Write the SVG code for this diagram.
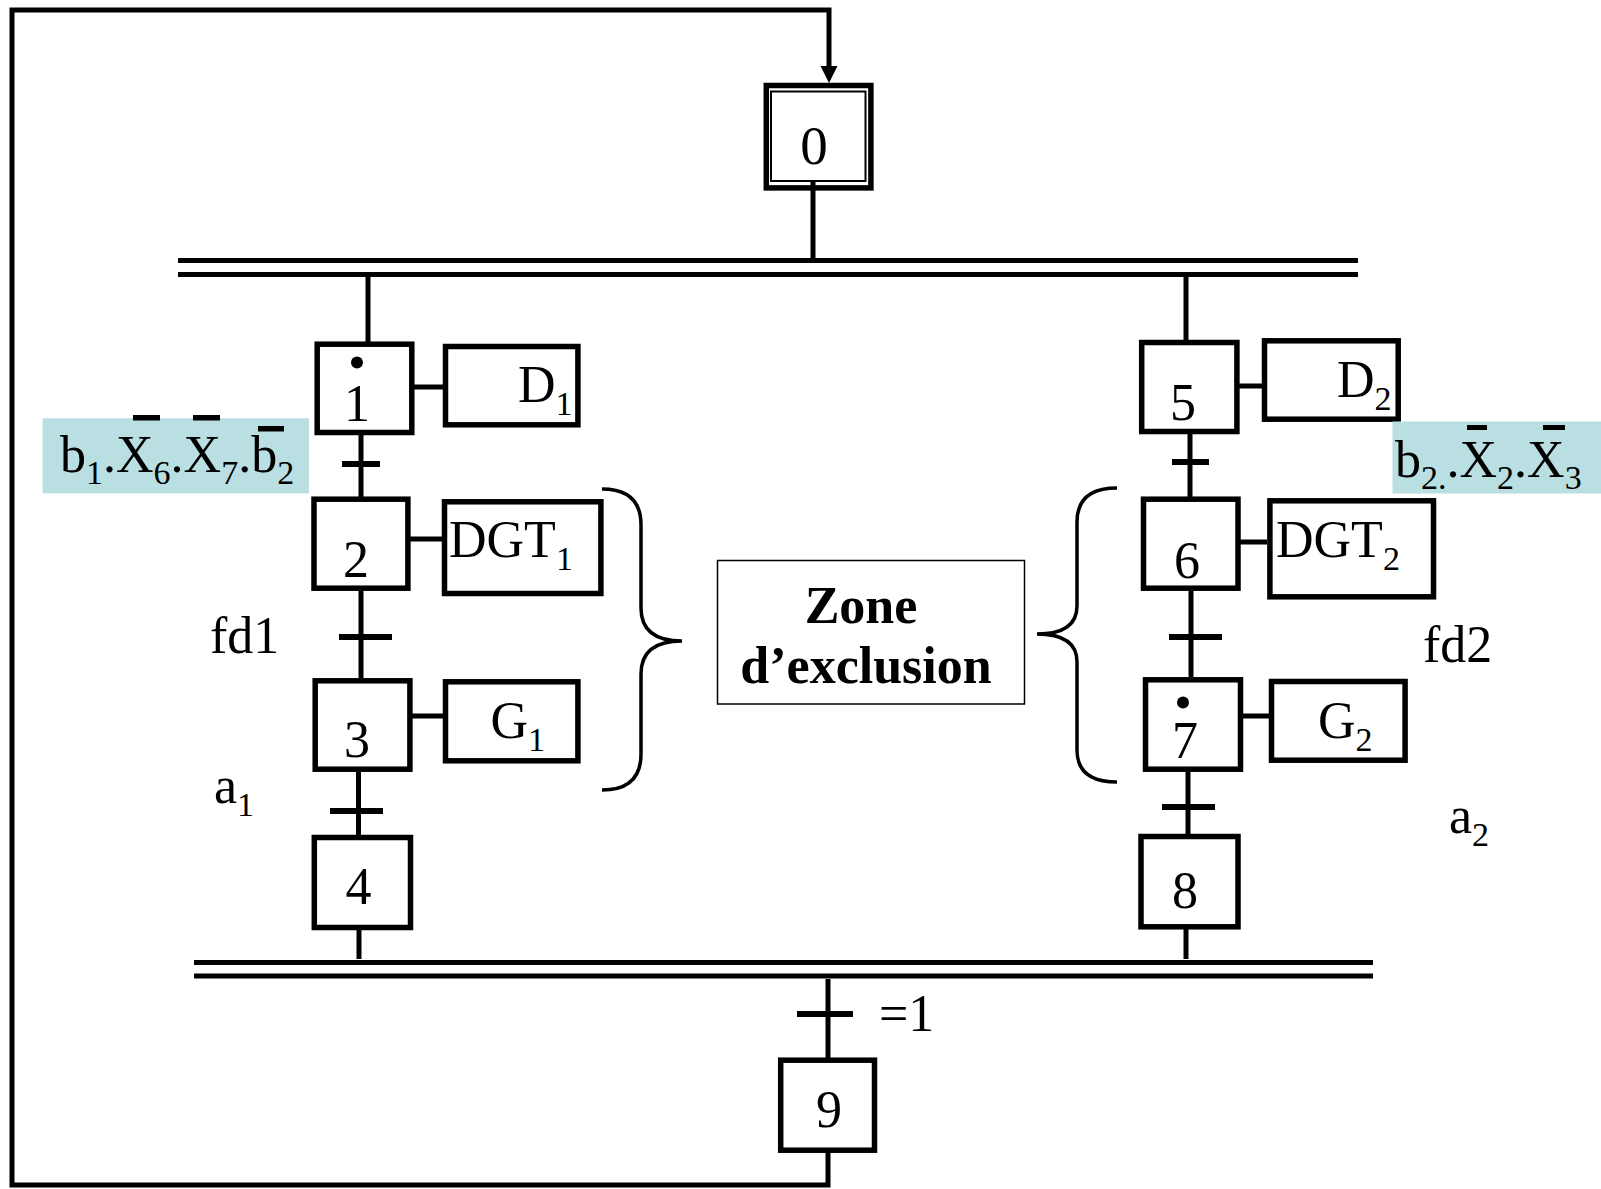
<svg xmlns="http://www.w3.org/2000/svg" width="1601" height="1189" viewBox="0 0 1601 1189">
<style>
.box{fill:#fff;stroke:#000;stroke-width:5.5}
.ln{fill:none;stroke:#000;stroke-width:5}
.tk{fill:none;stroke:#000;stroke-width:6}
.br{fill:none;stroke:#000;stroke-width:3.5}
.t{font-family:"Liberation Serif","Times New Roman",serif;font-size:52px;fill:#000}
.n{text-anchor:middle}
.s{font-size:34px}
.zb{font-family:"Liberation Serif","Times New Roman",serif;font-size:52px;font-weight:bold;text-anchor:middle}
.cy{fill:#b9dfe2}
.bar{fill:#000}
</style>
<defs>
<marker id="ah" markerUnits="userSpaceOnUse" markerWidth="18" markerHeight="18" refX="9" refY="16" orient="auto-start-reverse" viewBox="0 0 18 18">
<path d="M0.5 0 L17.5 0 L9 16 Z" fill="#000"/>
</marker>
</defs>
<rect width="1601" height="1189" fill="#fff"/>

<g id="connectors">
<path class="ln" d="M828 1152 V1185 H12 V10 H829 V67"/>
<path d="M820.5 66 L837.5 66 L829 83 Z" fill="#000"/>
<path class="ln" d="M813 189 V258"/>
<path class="ln" d="M178 260.5 H1358 M178 274.5 H1358"/>
<path class="ln" d="M368 277 V342"/>
<path class="ln" d="M1186 277 V340"/>
<path class="ln" d="M361 434 V497"/>
<path class="tk" d="M342 464 H380"/>
<path class="ln" d="M361 591 V678"/>
<path class="tk" d="M339 637 H392"/>
<path class="ln" d="M358.5 772 V835"/>
<path class="tk" d="M330 811 H383"/>
<path class="ln" d="M359 930 V959"/>
<path class="ln" d="M1190 434 V497"/>
<path class="tk" d="M1172 462 H1209"/>
<path class="ln" d="M1191 591 V677"/>
<path class="tk" d="M1169 637 H1222"/>
<path class="ln" d="M1188 772 V834"/>
<path class="tk" d="M1162 807 H1215"/>
<path class="ln" d="M1186 929 V959"/>
<path class="ln" d="M194 962.5 H1373 M194 976 H1373"/>
<path class="ln" d="M828 979 V1058"/>
<path class="tk" d="M797 1014 H853"/>
<path class="ln" d="M414 387 H443 M410 539 H442 M412 716 H443"/>
<path class="ln" d="M1239 386 H1262 M1240 542 H1267 M1243 716 H1269"/>
</g>

<g id="step0">
<rect x="766.3" y="85.5" width="104.6" height="102.4" fill="#fff" stroke="#000" stroke-width="5.5"/>
<rect x="771" y="91.5" width="94.5" height="89.5" fill="none" stroke="#000" stroke-width="2"/>
<path class="ln" d="M813 181 V189"/>
<text class="t n" x="814" y="164" style="font-size:55px">0</text>
</g>
<g id="step1">
<rect class="box" x="317.2" y="344.2" width="94.6" height="88.3"/>
<circle cx="357" cy="362.5" r="6" fill="#000"/>
<text class="t n" x="357" y="421">1</text>
</g>
<g id="step2">
<rect class="box" x="314" y="499.2" width="93.9" height="89"/>
<text class="t n" x="356" y="577">2</text>
</g>
<g id="step3">
<rect class="box" x="315.2" y="680.8" width="94.7" height="88.4"/>
<text class="t n" x="357" y="757">3</text>
</g>
<g id="step4">
<rect class="box" x="314.3" y="837.5" width="96.2" height="90"/>
<text class="t n" x="358.5" y="903.5">4</text>
</g>
<g id="step5">
<rect class="box" x="1141.7" y="342.5" width="95.2" height="89"/>
<text class="t n" x="1183" y="420">5</text>
</g>
<g id="step6">
<rect class="box" x="1143.5" y="499.2" width="94.5" height="89"/>
<text class="t n" x="1187" y="578">6</text>
</g>
<g id="step7">
<rect class="box" x="1145.5" y="679.8" width="95" height="89.4"/>
<circle cx="1183" cy="702.5" r="6" fill="#000"/>
<text class="t n" x="1185" y="758">7</text>
</g>
<g id="step8">
<rect class="box" x="1141" y="836.5" width="97" height="90.3"/>
<text class="t n" x="1185" y="908">8</text>
</g>
<g id="step9">
<rect class="box" x="780.7" y="1060.2" width="93.8" height="90"/>
<text class="t n" x="829" y="1127">9</text>
</g>

<g id="actionD1">
<rect class="box" x="445.5" y="346.5" width="132.4" height="78.3"/>
<text class="t" x="518" y="402">D<tspan class="s" dy="13">1</tspan></text>
</g>
<g id="actionDGT1">
<rect class="box" x="444.5" y="501.8" width="156.4" height="91.7"/>
<text class="t" x="449" y="557">DGT<tspan class="s" dy="13">1</tspan></text>
</g>
<g id="actionG1">
<rect class="box" x="445.5" y="681.8" width="132.4" height="79"/>
<text class="t" x="490.5" y="738">G<tspan class="s" dy="13">1</tspan></text>
</g>
<g id="actionD2">
<rect class="box" x="1264.5" y="340.8" width="133.7" height="78.4"/>
<text class="t" x="1337" y="397">D<tspan class="s" dy="13">2</tspan></text>
</g>
<g id="actionDGT2">
<rect class="box" x="1269.9" y="500.8" width="163.6" height="96"/>
<text class="t" x="1276" y="557">DGT<tspan class="s" dy="13">2</tspan></text>
</g>
<g id="actionG2">
<rect class="box" x="1271.5" y="681.5" width="133.6" height="78.7"/>
<text class="t" x="1318" y="738">G<tspan class="s" dy="13">2</tspan></text>
</g>

<g id="cond1">
<rect class="cy" x="42.5" y="418.3" width="266.5" height="75"/>
<text class="t" x="60" y="471.5">b<tspan class="s" dy="12">1</tspan><tspan dy="-12">.X</tspan><tspan class="s" dy="12">6</tspan><tspan dy="-12">.X</tspan><tspan class="s" dy="12">7</tspan><tspan dy="-12">.b</tspan><tspan class="s" dy="12">2</tspan></text>
<rect class="bar" x="133" y="415" width="27" height="5.5"/>
<rect class="bar" x="193" y="415" width="27" height="5.5"/>
<rect class="bar" x="258" y="426" width="26" height="5.5"/>
</g>
<g id="cond5">
<rect class="cy" x="1392.5" y="421.5" width="208.5" height="72"/>
<text class="t" x="1395" y="476.5">b<tspan class="s" dy="12">2.</tspan><tspan dy="-12">.X</tspan><tspan class="s" dy="12">2</tspan><tspan dy="-12">.X</tspan><tspan class="s" dy="12">3</tspan></text>
<rect class="bar" x="1467" y="425" width="20" height="5"/>
<rect class="bar" x="1543" y="425" width="22" height="5"/>
</g>

<g id="labels">
<text class="t" x="210" y="653">fd1</text>
<text class="t" x="214" y="803">a<tspan class="s" dy="13">1</tspan></text>
<text class="t" x="1423" y="662">fd2</text>
<text class="t" x="1449" y="833">a<tspan class="s" dy="13">2</tspan></text>
<text class="t" x="879" y="1031">=1</text>
</g>

<g id="zone">
<rect x="717.5" y="560.5" width="307" height="143.5" fill="#fff" stroke="#000" stroke-width="1.5"/>
<text class="zb" x="861" y="622.5">Zone</text>
<text class="zb" x="866" y="683">d’exclusion</text>
</g>
<g id="braces">
<path class="br" d="M602 489 Q641 489 641 525 V608 Q641 641 682 641 Q641 641 641 674 V754 Q641 790 602 790"/>
<path class="br" d="M1117 488 Q1077 488 1077 522 V606 Q1077 634 1037 634 Q1077 634 1077 662 V750 Q1077 782 1117 782"/>
</g>
</svg>
